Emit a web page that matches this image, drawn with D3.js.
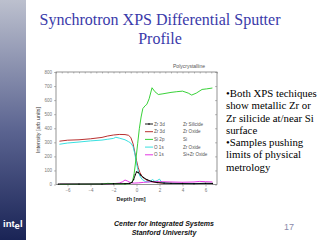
<!DOCTYPE html>
<html>
<head>
<meta charset="utf-8">
<script src="https://cdn.jsdelivr.net/npm/d3@7"></script>
<style>
  body { margin: 0; background: #fff; }
  svg { display: block; }
</style>
</head>
<body>
<svg width="320" height="240"></svg>
<script>
// tick values
let xTicks = [-6, -4, -2, 0, 2, 4, 6];
let yTicks = [0, 100, 200, 300, 400, 500, 600, 700, 800];

// Zr 3d - Zr silicide (black, markers)
let zrSilDepth = [-6.8, -5, -3, -2, -1, -0.6, -0.4, -0.25, -0.1, 0, 0.15, 0.35, 0.6, 0.9, 1.3, 1.8, 2.4, 3, 4, 5, 6, 6.6];
let zrSilVals  = [3, 3, 3, 5, 6, 8, 15, 35, 70, 90, 85, 68, 50, 35, 22, 14, 10, 8, 7, 6, 8, 7];

// Zr 3d - Zr oxide (dark red)
let zrOxDepth = [-6.7, -6, -5, -4, -3, -2.5, -2, -1.5, -1, -0.7, -0.5, -0.3, -0.15, 0, 0.15, 0.3, 0.5, 0.8, 1.2, 1.7, 2.3, 3, 4, 5, 6, 6.6];
let zrOxVals  = [308, 315, 318, 325, 335, 345, 352, 356, 355, 350, 335, 290, 230, 170, 120, 85, 55, 35, 22, 14, 10, 8, 7, 7, 8, 8];

// Si 2p - Si (green)
let siDepth = [-6.7, -5, -3, -2.5, -2, -1.5, -1, -0.6, -0.35, -0.2, -0.05, 0.1, 0.25, 0.4, 0.55, 0.75, 0.9, 1.1, 1.35, 1.6, 1.9, 2.3, 3, 3.5, 4, 4.5, 4.8, 5.2, 5.7, 6.1, 6.6];
let siVals  = [2, 3, 4, 8, 6, 5, 4, 6, 20, 80, 180, 290, 400, 480, 540, 560, 570, 610, 688, 660, 640, 645, 655, 660, 664, 650, 636, 650, 676, 680, 686];

// O 1s - Zr oxide (cyan)
let oZrDepth = [-6.7, -6, -5, -4, -3, -2.5, -2, -1.8, -1.5, -1, -0.7, -0.5, -0.3, -0.15, 0, 0.15, 0.3, 0.5, 0.8, 1.1, 1.4, 1.6, 1.8, 2, 2.2, 2.6, 3, 4, 5, 6, 6.6];
let oZrVals  = [286, 295, 302, 310, 316, 322, 328, 336, 330, 318, 305, 295, 270, 220, 150, 95, 60, 35, 20, 18, 35, 22, 28, 38, 15, 10, 8, 7, 7, 8, 8];

// O 1s - Si+Zr oxide (magenta)
let oSiDepth = [-6.7, -5, -3, -2, -1.5, -1.2, -1, -0.8, -0.5, -0.2, 0.2, 0.6, 1, 1.5, 2, 3, 4, 5, 5.5, 6, 6.6];
let oSiVals  = [4, 4, 5, 6, 10, 20, 32, 25, 12, 10, 12, 15, 18, 20, 20, 18, 16, 18, 22, 20, 18];

let legendSymbols = ["Zr 3d", "Zr 3d", "Si 2p", "O 1s", "O 1s"];
let legendNames = ["Zr Silicide", "Zr Oxide", "Si", "Zr Oxide", "Si+Zr Oxide"];
let legendColors = ["#000000", "#b01818", "#22cc22", "#22dddd", "#e020e0"];

let bullets = [
    ["\u2022Both XPS techiques", "show metallic Zr or", "Zr silicide at/near Si", "surface"],
    ["\u2022Samples pushing", "limits of physical", "metrology"]
];

let serif = '"Liberation Serif", "DejaVu Serif", serif';
let sans = '"Liberation Sans", "DejaVu Sans", sans-serif';

let svg = d3.select("svg");

// left sidebar gradient
let defs = svg.append("defs");
let grad = defs.append("linearGradient")
    .attr("id", "side")
    .attr("x1", 0).attr("y1", 0)
    .attr("x2", 0).attr("y2", 1);
grad.append("stop").attr("offset", "0%").attr("stop-color", "#bcc0ce");
grad.append("stop").attr("offset", "55%").attr("stop-color", "#5a6390");
grad.append("stop").attr("offset", "100%").attr("stop-color", "#1a2456");

svg.append("rect")
    .attr("x", 0).attr("y", 0)
    .attr("width", 26).attr("height", 240)
    .attr("fill", "url(#side)");

// intel logo
let logo = svg.append("text")
    .style("font-family", sans)
    .attr("x", 3).attr("y", 227)
    .attr("fill", "#fff")
    .attr("font-weight", "bold")
    .attr("font-size", 9.5);
logo.append("tspan").text("int");
logo.append("tspan").attr("dy", 2).text("e");
logo.append("tspan").attr("dy", -2).text("l");

// title
svg.append("g")
    .selectAll("text")
    .data(["Synchrotron XPS Differential Sputter", "Profile"])
    .enter()
    .append("text")
    .style("font-family", serif)
    .attr("x", 160)
    .attr("y", (d, i) => 25 + i * 18.5)
    .attr("text-anchor", "middle")
    .attr("fill", "#3a3aaa")
    .attr("font-size", 16)
    .text(d => d);

// scales
let xScale = d3.scaleLinear().domain([-7, 7]).range([56, 217]);
let yScale = d3.scaleLinear().domain([0, 800]).range([184.5, 72]);

let plot = svg.append("g");

// frame
plot.append("rect")
    .attr("x", 56).attr("y", 72)
    .attr("width", 161).attr("height", 112.5)
    .attr("fill", "none")
    .attr("stroke", "#666")
    .attr("stroke-width", 0.7);

let yAxis = d3.axisLeft(yScale).tickValues(yTicks).tickSize(2).tickPadding(2);
let yG = plot.append("g").attr("transform", "translate(56,0)").call(yAxis);

let xAxis = d3.axisBottom(xScale).tickValues(xTicks).tickSize(2).tickPadding(2);
let xG = plot.append("g").attr("transform", "translate(0,184.5)").call(xAxis);

let topAxis = d3.axisBottom(xScale).tickValues(d3.range(-7, 7.01, 0.5)).tickSize(1.5).tickFormat("");
let topG = plot.append("g").attr("transform", "translate(0,72)").call(topAxis);

let rightAxis = d3.axisLeft(yScale).tickValues(yTicks).tickSize(2).tickFormat("");
let rightG = plot.append("g").attr("transform", "translate(217,0)").call(rightAxis);

[yG, xG, topG, rightG].forEach(g => {
    g.select(".domain").remove();
    g.attr("font-family", null);
    g.selectAll("line").attr("stroke", "#777").attr("stroke-width", 0.5);
    g.selectAll("text")
        .style("font-family", sans)
        .attr("fill", "#777")
        .attr("font-size", 4.5);
});

// axis labels
svg.append("text")
    .style("font-family", sans)
    .attr("transform", "translate(40,130) rotate(-90)")
    .attr("text-anchor", "middle")
    .attr("font-size", 5.5)
    .attr("fill", "#333")
    .text("Intensity [arb units]");

svg.append("text")
    .style("font-family", sans)
    .attr("x", 131).attr("y", 201)
    .attr("text-anchor", "middle")
    .attr("font-weight", "bold")
    .attr("font-size", 5.5)
    .attr("fill", "#222")
    .text("Depth [nm]");

svg.append("text")
    .style("font-family", sans)
    .attr("x", 189).attr("y", 68)
    .attr("text-anchor", "middle")
    .attr("font-size", 5)
    .attr("fill", "#555")
    .text("Polycrystalline");

// lines
let series = [
    { depth: zrOxDepth, vals: zrOxVals, color: legendColors[1] },
    { depth: oZrDepth, vals: oZrVals, color: legendColors[3] },
    { depth: oSiDepth, vals: oSiVals, color: legendColors[4] },
    { depth: siDepth, vals: siVals, color: legendColors[2] },
    { depth: zrSilDepth, vals: zrSilVals, color: legendColors[0] }
];

let line = d3.line()
    .x(d => xScale(d[0]))
    .y(d => yScale(d[1]));

series.forEach(s => {
    let pts = s.depth.map((d, i) => [d, s.vals[i]]);
    plot.append("path")
        .datum(pts)
        .attr("d", line)
        .attr("fill", "none")
        .attr("stroke", s.color)
        .attr("stroke-width", 0.9);
});

// markers on silicide series
plot.selectAll(".mk")
    .data(zrSilDepth.map((d, i) => [d, zrSilVals[i]]))
    .enter()
    .append("circle")
    .attr("class", "mk")
    .attr("cx", d => xScale(d[0]))
    .attr("cy", d => yScale(d[1]))
    .attr("r", 0.7)
    .attr("fill", "#000");

// legend
let leg = plot.append("g")
    .selectAll("g")
    .data(legendNames)
    .enter()
    .append("g")
    .attr("transform", (d, i) => `translate(145,${124 + i * 7.7})`);

leg.append("line")
    .attr("x1", 0).attr("x2", 8)
    .attr("y1", 0).attr("y2", 0)
    .attr("stroke", (d, i) => legendColors[i])
    .attr("stroke-width", 0.9);

leg.filter((d, i) => i === 0)
    .append("circle")
    .attr("cx", 4).attr("cy", 0).attr("r", 0.8)
    .attr("fill", "#000");

leg.append("text")
    .style("font-family", sans)
    .attr("x", 9).attr("y", 1.6)
    .attr("font-size", 4.6)
    .attr("fill", "#555")
    .text((d, i) => legendSymbols[i]);

leg.append("text")
    .style("font-family", sans)
    .attr("x", 38).attr("y", 1.6)
    .attr("font-size", 4.6)
    .attr("fill", "#555")
    .text(d => d);

// bullet text
let lines = [];
bullets.forEach(b => b.forEach(t => lines.push(t)));
svg.append("g")
    .selectAll("text")
    .data(lines)
    .enter()
    .append("text")
    .style("font-family", serif)
    .attr("x", 226)
    .attr("y", (d, i) => 97 + i * 12.25)
    .attr("font-size", 10.8)
    .attr("fill", "#000")
    .text(d => d);

// footer
svg.append("g")
    .selectAll("text")
    .data(["Center for Integrated Systems", "Stanford University"])
    .enter()
    .append("text")
    .style("font-family", sans)
    .attr("x", 164)
    .attr("y", (d, i) => 226 + i * 8.5)
    .attr("text-anchor", "middle")
    .attr("font-weight", "bold")
    .attr("font-style", "italic")
    .attr("font-size", 7)
    .attr("fill", "#111")
    .text(d => d);

svg.append("text")
    .style("font-family", sans)
    .attr("x", 289).attr("y", 230)
    .attr("text-anchor", "middle")
    .attr("font-size", 9)
    .attr("fill", "#8a8aaa")
    .text("17");
</script>
</body>
</html>
